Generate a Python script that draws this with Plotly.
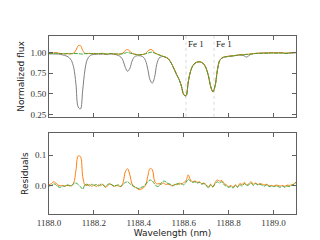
import plotly.graph_objects as go
from plotly.subplots import make_subplots

wavelength = [
    1188.00, 1188.01, 1188.02, 1188.03, 1188.04, 1188.05, 1188.06, 1188.07, 1188.08, 1188.09,
    1188.10, 1188.11, 1188.12, 1188.13, 1188.14, 1188.15, 1188.16, 1188.17, 1188.18, 1188.19,
    1188.20, 1188.21, 1188.22, 1188.23, 1188.24, 1188.25, 1188.26, 1188.27, 1188.28, 1188.29,
    1188.30, 1188.31, 1188.32, 1188.33, 1188.34, 1188.35, 1188.36, 1188.37, 1188.38, 1188.39,
    1188.40, 1188.41, 1188.42, 1188.43, 1188.44, 1188.45, 1188.46, 1188.47, 1188.48, 1188.49,
    1188.50, 1188.51, 1188.52, 1188.53, 1188.54, 1188.55, 1188.56, 1188.57, 1188.58, 1188.59,
    1188.60, 1188.61, 1188.62, 1188.63, 1188.64, 1188.65, 1188.66, 1188.67, 1188.68, 1188.69,
    1188.70, 1188.71, 1188.72, 1188.73, 1188.74, 1188.75, 1188.76, 1188.77, 1188.78, 1188.79,
    1188.80, 1188.81, 1188.82, 1188.83, 1188.84, 1188.85, 1188.86, 1188.87, 1188.88, 1188.89,
    1188.90, 1188.91, 1188.92, 1188.93, 1188.94, 1188.95, 1188.96, 1188.97, 1188.98, 1188.99,
    1189.00, 1189.01, 1189.02, 1189.03, 1189.04, 1189.05, 1189.06, 1189.07, 1189.08, 1189.09,
    1189.10,
]

flux_observed = [
    0.990, 0.988, 0.986, 0.985, 0.986, 0.982, 0.975, 0.968, 0.958, 0.940,
    0.905, 0.820, 0.620, 0.340, 0.315, 0.540, 0.790, 0.915, 0.958, 0.975,
    0.982, 0.984, 0.985, 0.983, 0.986, 0.982, 0.978, 0.984, 0.986, 0.982,
    0.976, 0.966, 0.948, 0.905, 0.820, 0.775, 0.810, 0.900, 0.950, 0.963,
    0.965, 0.962, 0.948, 0.905, 0.800, 0.670, 0.630, 0.700, 0.860, 0.935,
    0.952, 0.955, 0.946, 0.930, 0.895, 0.845, 0.785, 0.725, 0.670, 0.590,
    0.490, 0.475, 0.640, 0.770, 0.840, 0.872, 0.887, 0.890, 0.882, 0.860,
    0.810, 0.720, 0.590, 0.525, 0.600, 0.790, 0.905, 0.935, 0.948, 0.953,
    0.958, 0.960, 0.963, 0.966, 0.972, 0.974, 0.972, 0.962, 0.948, 0.965,
    0.985, 0.990, 0.992, 0.995, 0.993, 0.997, 0.998, 0.996, 0.999, 1.000,
    1.000, 0.998, 1.000, 1.001, 0.999, 0.994, 0.993, 0.998, 1.000, 1.001,
    1.003,
]

flux_orange = [
    0.990, 0.993, 0.998, 1.002, 0.997, 0.992, 0.990, 0.988, 0.990, 0.988,
    0.990, 0.996, 1.032, 1.086, 1.088, 1.030, 0.993, 0.990, 0.994, 0.989,
    0.992, 0.987, 0.992, 0.990, 0.995, 0.986, 0.984, 0.992, 0.990, 0.986,
    0.986, 0.984, 0.985, 0.998, 1.030, 1.040, 1.020, 0.994, 0.985, 0.980,
    0.975, 0.977, 0.982, 0.992, 1.020, 1.040, 1.035, 1.002, 0.988, 0.976,
    0.966, 0.956, 0.946, 0.932, 0.897, 0.845, 0.786, 0.727, 0.672, 0.592,
    0.493, 0.478, 0.645, 0.772, 0.842, 0.874, 0.888, 0.891, 0.884, 0.861,
    0.812, 0.720, 0.592, 0.527, 0.602, 0.792, 0.906, 0.937, 0.950, 0.954,
    0.958, 0.962, 0.964, 0.968, 0.972, 0.976, 0.977, 0.979, 0.982, 0.984,
    0.986, 0.990, 0.993, 0.994, 0.996, 0.997, 0.999, 0.997, 0.999, 1.001,
    1.000, 0.999, 1.001, 1.000, 1.000, 0.995, 0.996, 0.999, 1.001, 1.002,
    1.004,
]

flux_green = [
    0.988, 0.990, 0.994, 0.996, 0.993, 0.990, 0.989, 0.987, 0.990, 0.988,
    0.989, 0.991, 0.992, 0.989, 0.986, 0.985, 0.990, 0.991, 0.990, 0.991,
    0.990, 0.989, 0.990, 0.991, 0.992, 0.986, 0.987, 0.992, 0.990, 0.987,
    0.986, 0.986, 0.985, 0.990, 0.998, 1.004, 0.998, 0.990, 0.984, 0.979,
    0.976, 0.978, 0.981, 0.988, 0.996, 1.006, 1.008, 0.996, 0.985, 0.974,
    0.965, 0.955, 0.945, 0.930, 0.896, 0.843, 0.785, 0.726, 0.670, 0.591,
    0.491, 0.477, 0.643, 0.771, 0.841, 0.873, 0.887, 0.890, 0.883, 0.860,
    0.810, 0.719, 0.591, 0.526, 0.601, 0.791, 0.905, 0.936, 0.948, 0.952,
    0.956, 0.960, 0.962, 0.967, 0.970, 0.975, 0.975, 0.978, 0.980, 0.982,
    0.985, 0.988, 0.992, 0.993, 0.994, 0.995, 0.997, 0.996, 0.997, 0.999,
    0.998, 0.997, 0.998, 0.997, 0.998, 0.993, 0.994, 0.996, 0.999, 1.000,
    1.003,
]

resid_orange = [
    0.002, 0.006, 0.012, 0.008, 0.001, -0.001, 0.000, -0.002, 0.000, -0.001,
    0.000, 0.008, 0.050, 0.097, 0.095, 0.030, 0.002, 0.000, 0.003, -0.003,
    0.002, -0.004, 0.002, -0.001, 0.004, -0.006, -0.002, 0.004, 0.002, -0.003,
    0.000, -0.002, -0.004, 0.010, 0.045, 0.055, 0.035, 0.005, -0.005, -0.008,
    -0.014, -0.012, -0.008, 0.000, 0.030, 0.056, 0.052, 0.015, 0.005, 0.006,
    0.004, 0.008, 0.003, 0.005, 0.002, -0.002, 0.004, 0.002, 0.008, 0.004,
    0.010, 0.015, 0.035, 0.018, 0.012, 0.015, 0.010, 0.012, 0.006, 0.008,
    0.002, -0.004, 0.004, -0.006, 0.010, 0.018, 0.014, 0.016, 0.006, 0.002,
    -0.004, 0.000, -0.006, 0.002, -0.004, 0.006, 0.003, 0.010, 0.002, 0.006,
    0.012, 0.004, 0.008, 0.003, 0.006, 0.004, 0.002, 0.004, -0.002, 0.000,
    -0.002, 0.001, 0.000, -0.002, 0.000, -0.003, 0.001, 0.000, 0.002, 0.004,
    0.012,
]

resid_green = [
    -0.002, 0.000, 0.005, 0.003, -0.004, -0.006, -0.002, -0.003, 0.002, 0.000,
    -0.002, 0.006, 0.008, 0.003, -0.004, -0.012, 0.002, 0.004, -0.002, 0.004,
    0.000, 0.003, -0.002, 0.004, 0.002, -0.004, 0.002, 0.006, 0.002, -0.002,
    0.000, 0.002, -0.003, 0.004, 0.010, 0.012, 0.006, 0.000, -0.004, -0.008,
    -0.010, -0.006, -0.004, 0.004, 0.012, 0.018, 0.015, 0.005, -0.003, -0.002,
    0.008, 0.014, 0.012, 0.006, 0.004, 0.000, 0.002, 0.006, 0.004, 0.006,
    0.002, 0.010, 0.020, 0.014, 0.010, 0.012, 0.008, 0.010, 0.004, 0.006,
    0.000, -0.008, 0.002, -0.004, 0.006, 0.012, 0.008, 0.012, 0.002, -0.002,
    -0.006, -0.004, -0.008, 0.000, -0.006, 0.002, -0.002, 0.006, 0.000, 0.002,
    0.008, 0.000, 0.006, 0.002, 0.004, 0.000, -0.002, 0.002, -0.004, -0.002,
    -0.004, -0.002, -0.004, -0.006, -0.002, -0.006, -0.002, -0.004, 0.000, 0.004,
    0.010,
]

line_positions = [1188.61, 1188.735]
line_labels = ["Fe 1", "Fe 1"]

x_ticks = [1188.0, 1188.2, 1188.4, 1188.6, 1188.8, 1189.0]
x_ticklabels = ["1188.0", "1188.2", "1188.4", "1188.6", "1188.8", "1189.0"]
flux_ticks = [0.25, 0.50, 0.75, 1.00]
flux_ticklabels = ["0.25", "0.50", "0.75", "1.00"]
resid_ticks = [0.0, 0.1]
resid_ticklabels = ["0.0", "0.1"]

GRAY = "#7f7f7f"
ORANGE = "#ff7f0e"
GREEN = "#2ca02c"
FRAME = "#606060"
TICKFONT = dict(family="Liberation Serif", size=9, color="#333333")
TITLEFONT = dict(family="DejaVu Sans", size=9, color="#222222")

fig = make_subplots(rows=2, cols=1, shared_xaxes=False, vertical_spacing=0.0)

fig.add_trace(go.Scatter(x=wavelength, y=flux_observed, mode="lines",
                         line=dict(color=GRAY, width=1.0, shape="spline"),
                         showlegend=False), row=1, col=1)
fig.add_trace(go.Scatter(x=wavelength, y=flux_orange, mode="lines",
                         line=dict(color=ORANGE, width=1.0, shape="spline"),
                         showlegend=False), row=1, col=1)
fig.add_trace(go.Scatter(x=wavelength, y=flux_green, mode="lines",
                         line=dict(color=GREEN, width=0.9, dash="4px,1px", shape="spline"),
                         showlegend=False), row=1, col=1)
fig.add_trace(go.Scatter(x=wavelength, y=resid_orange, mode="lines",
                         line=dict(color=ORANGE, width=1.0, shape="spline"),
                         showlegend=False), row=2, col=1)
fig.add_trace(go.Scatter(x=wavelength, y=resid_green, mode="lines",
                         line=dict(color=GREEN, width=0.9, dash="4px,1px", shape="spline"),
                         showlegend=False), row=2, col=1)

for xp, lab in zip(line_positions, line_labels):
    fig.add_shape(type="line", xref="x", yref="y domain", x0=xp, x1=xp, y0=0, y1=1,
                  line=dict(color="#c0c0c0", width=0.6, dash="dot"), layer="below")
    fig.add_annotation(x=xp, y=0.9, xref="x", yref="y domain", text=lab,
                       showarrow=False, xanchor="left", yanchor="middle", xshift=0,
                       font=dict(family="Liberation Serif", size=9, color="#222222"))

axis_common = dict(showline=True, linecolor=FRAME, linewidth=1, mirror="ticks",
                   ticks="inside", ticklen=4, tickcolor=FRAME, tickwidth=1,
                   showgrid=False, zeroline=False, tickfont=TICKFONT)

fig.update_xaxes(range=[1188.0, 1189.1], tickvals=x_ticks, ticktext=x_ticklabels,
                 **axis_common)
fig.update_xaxes(showticklabels=False, row=1, col=1)
fig.update_xaxes(title=dict(text="Wavelength (nm)", font=TITLEFONT, standoff=2), row=2, col=1)

fig.update_yaxes(range=[0.22, 1.205], tickvals=flux_ticks, ticktext=flux_ticklabels,
                 title=dict(text="Normalized flux", font=TITLEFONT, standoff=4),
                 row=1, col=1, **axis_common)
fig.update_yaxes(range=[-0.094, 0.172], tickvals=resid_ticks, ticktext=resid_ticklabels,
                 title=dict(text="Residuals", font=TITLEFONT, standoff=4),
                 row=2, col=1, **axis_common)

fig.update_layout(
    width=320, height=240,
    margin=dict(l=40, r=32, t=28, b=27),
    paper_bgcolor="white", plot_bgcolor="white",
    xaxis=dict(domain=[0, 1]),
    yaxis=dict(domain=[0.546, 1.0]),
    yaxis2=dict(domain=[0.0, 0.454]),
)

fig.write_html("out.html")
